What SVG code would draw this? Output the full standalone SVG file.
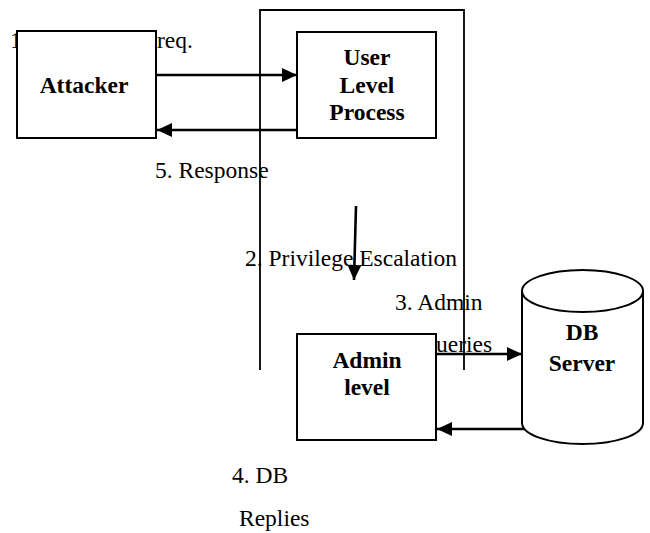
<svg xmlns="http://www.w3.org/2000/svg" width="650" height="533" viewBox="0 0 650 533">
  <style>
    .lbl { font-family: "Liberation Serif", "Times New Roman", serif; font-size: 23.5px; fill: #000; }
    .name { font-family: "Liberation Serif", "Times New Roman", serif; font-size: 23.5px; font-weight: bold; fill: #000; text-anchor: middle; }
    .box { fill: #fff; stroke: #000; stroke-width: 2; }
    .edge { fill: none; stroke: #000; stroke-width: 2.6; }
    .zone { fill: none; stroke: #000; stroke-width: 1.8; }
  </style>
  <defs>
    <marker id="arrow" markerUnits="userSpaceOnUse" markerWidth="16" markerHeight="14" refX="15" refY="7" orient="auto">
      <path d="M0,0 L15,7 L0,14 z" fill="#000"/>
    </marker>
  </defs>

  <!-- step labels (drawn first so boxes and lines sit on top) -->
  <g id="labels">
    <text class="lbl" y="48"><tspan x="10">1.</tspan><tspan x="157">req.</tspan></text>
    <text class="lbl" x="155" y="178">5. Response</text>
    <text class="lbl" x="245" y="266">2. Privilege Escalation</text>
    <text class="lbl" x="395" y="310">3. Admin</text>
    <text class="lbl" x="419" y="352">Queries</text>
    <text class="lbl" x="232" y="483">4. DB</text>
    <text class="lbl" x="239" y="526">Replies</text>
  </g>

  <!-- server boundary, open at the bottom -->
  <path id="boundary" class="zone" d="M260,370 V10 H464 V370"/>

  <g id="connectors">
    <line class="edge" x1="156" y1="75" x2="297" y2="75" marker-end="url(#arrow)"/>
    <line class="edge" x1="297" y1="130" x2="157" y2="130" marker-end="url(#arrow)"/>
    <line class="edge" x1="356" y1="206" x2="354" y2="280" marker-end="url(#arrow)"/>
    <line class="edge" x1="436" y1="354" x2="522" y2="354" marker-end="url(#arrow)"/>
    <line class="edge" x1="524" y1="429" x2="437" y2="429" marker-end="url(#arrow)"/>
  </g>

  <g id="attacker">
    <rect class="box" x="17" y="31" width="139" height="107"/>
    <text class="name" x="84" y="93">Attacker</text>
  </g>

  <g id="user-process">
    <rect class="box" x="297" y="32" width="139" height="106"/>
    <text class="name" x="367" y="65">User</text>
    <text class="name" x="367" y="93">Level</text>
    <text class="name" x="367" y="120">Process</text>
  </g>

  <g id="admin-level">
    <rect class="box" x="297" y="334" width="139" height="106"/>
    <text class="name" x="367" y="368">Admin</text>
    <text class="name" x="367" y="395">level</text>
  </g>

  <g id="db-server">
    <path class="box" d="M522,291 V423 A60.5,21 0 0 0 643,423 V291"/>
    <ellipse class="box" cx="582.5" cy="291" rx="60.5" ry="21"/>
    <text class="name" x="582" y="340">DB</text>
    <text class="name" x="582" y="371">Server</text>
  </g>
</svg>
